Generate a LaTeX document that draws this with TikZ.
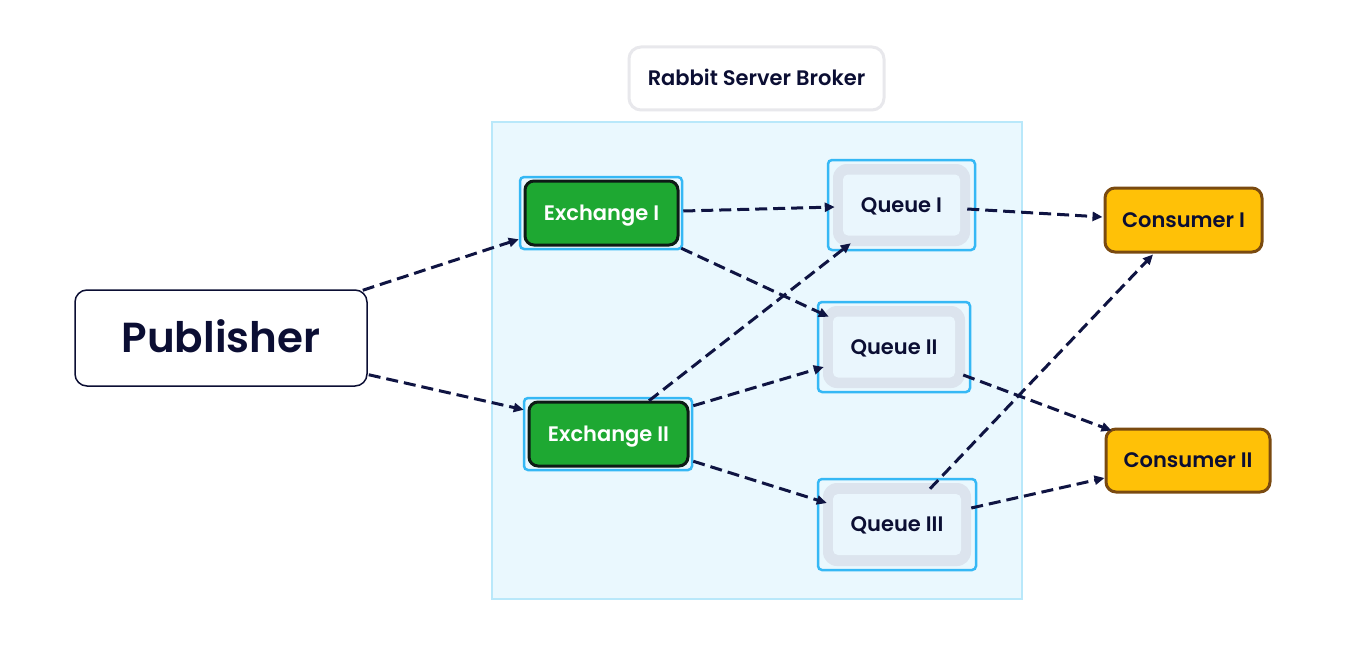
\documentclass[tikz,border=0pt]{standalone}
\usepackage{fontspec}
\setmainfont{Poppins}[BoldFont={* SemiBold}]
\usetikzlibrary{arrows.meta,calc}
\definecolor{brokerfill}{HTML}{EAF8FE}
\definecolor{brokerline}{HTML}{B9E8FA}
\definecolor{titleline}{HTML}{E8E8EC}
\definecolor{selblue}{HTML}{35B8F5}
\definecolor{exgreen}{HTML}{1EA832}
\definecolor{exline}{HTML}{0D1B16}
\definecolor{qring}{HTML}{DCE4EE}
\definecolor{qinner}{HTML}{EAF6FD}
\definecolor{navy}{HTML}{0B0E33}
\definecolor{consfill}{HTML}{FFC107}
\definecolor{consline}{HTML}{7A4A10}
\definecolor{arrowc}{HTML}{0F1442}
\begin{document}
\begin{tikzpicture}[x=1pt,y=-1pt,
  lbl/.style={font=\bfseries\fontsize{21}{25}\selectfont,text height=14.7pt,text depth=0pt},
  sel/.style={draw=selblue,line width=2.5pt,rounded corners=4pt,fill=none,inner sep=0pt},
  exbox/.style={lbl,draw=exline,line width=3pt,fill=exgreen,rounded corners=9pt,text=white,minimum width=153pt,minimum height=64pt,inner sep=0pt},
  qring/.style={fill=qring,rounded corners=14pt,minimum width=137pt,minimum height=82pt,inner sep=0pt},
  qin/.style={lbl,fill=qinner,rounded corners=5pt,minimum width=117pt,minimum height=61pt,inner sep=0pt,text=navy},
  cons/.style={lbl,draw=consline,line width=3pt,fill=consfill,rounded corners=10pt,text=navy,inner sep=0pt},
  flow/.style={draw=arrowc,line width=3pt,dash pattern=on 12pt off 6pt,-{Triangle[length=10pt,width=9pt]}}
]
\useasboundingbox (0,0) rectangle (1354,666);
\fill[white] (0,0) rectangle (1354,666);
% broker area
\node[draw=brokerline,line width=1.5pt,fill=brokerfill,minimum width=530pt,minimum height=477pt,inner sep=0pt] (broker) at (757,360.5) {};
\node[lbl,draw=titleline,line width=3pt,fill=white,rounded corners=12pt,minimum width=255pt,minimum height=63pt,inner sep=0pt,text=navy] (title) at (756.5,78.5) {Rabbit Server Broker};
% publisher
\node[draw=navy,line width=1.5pt,fill=white,rounded corners=12pt,minimum width=292pt,minimum height=96pt,inner sep=0pt,text=navy,font=\bfseries\fontsize{42}{48}\selectfont,text height=29.4pt,text depth=0pt] (pub) at (221,338) {Publisher};
% exchanges
\node[exbox] (ex1in) at (601.5,213) {Exchange I};
\node[sel,minimum width=162pt,minimum height=72pt] (ex1) at (601,213) {};
\node[exbox,minimum width=159pt] (ex2in) at (608.5,434) {Exchange II};
\node[sel,minimum width=168pt,minimum height=72pt] (ex2) at (608,434) {};
% queues
\node[qring] (q1ring) at (901.5,205) {};
\node[qin] (q1in) at (901.5,205) {Queue I};
\node[sel,minimum width=147pt,minimum height=90pt] (q1) at (901.5,205) {};
\node[qring,minimum width=142pt] (q2ring) at (894,347) {};
\node[qin,minimum width=122pt] (q2in) at (894,347) {Queue II};
\node[sel,minimum width=152pt,minimum height=90pt] (q2) at (894,347) {};
\node[qring,minimum width=148pt,minimum height=83pt] (q3ring) at (897,524.5) {};
\node[qin,minimum width=128pt] (q3in) at (897,524.5) {Queue III};
\node[sel,minimum width=158pt,minimum height=91pt] (q3) at (897,524.5) {};
% consumers
\node[cons,minimum width=157pt,minimum height=64pt] (c1) at (1183.5,220) {Consumer I};
\node[cons,minimum width=164pt,minimum height=63pt] (c2) at (1188,460.5) {Consumer II};
% connectors
\draw[flow] ($(pub.north east)+(-5,1)$) -- ($(ex1.south west)+(0,-11)$);
\draw[flow] ($(pub.south east)+(1,-12)$) -- ($(ex2.north west)+(1,13)$);
\draw[flow] ($(ex1.east)+(0,-2)$) -- ($(q1.west)+(8,2)$);
\draw[flow] ($(ex1.south east)+(-2,-2)$) -- ($(q2.north west)+(12,16)$);
\draw[flow] ($(ex2.north)+(41,4)$) -- ($(q1.south west)+(24,-8)$);
\draw[flow] ($(ex2.north east)+(0,9)$) -- ($(q2.west)+(7,20)$);
\draw[flow] ($(ex2.south east)+(0,-10)$) -- ($(q3.west)+(10,-21.5)$);
\draw[flow] ($(q1.east)+(-9,4)$) -- ($(c1.west)+(-1,-3)$);
\draw[flow] ($(q2.east)+(-8,28)$) -- ($(c2.north west)+(7,3)$);
\draw[flow] ($(q3.north)+(33,11)$) -- ($(c1.south)+(-30.5,1)$);
\draw[flow] ($(q3.east)+(-6,-16.5)$) -- ($(c2.west)+(0,17.5)$);
\end{tikzpicture}
\end{document}
